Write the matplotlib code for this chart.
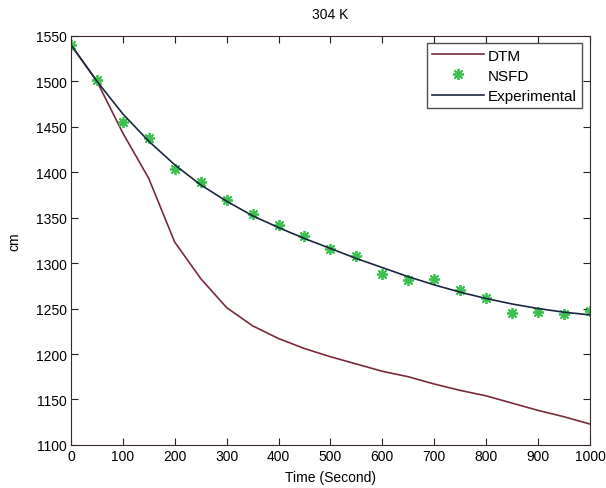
import matplotlib
matplotlib.use("Agg")
import matplotlib.pyplot as plt

t = [0, 50, 100, 150, 200, 250, 300, 350, 400, 450, 500, 550, 600, 650, 700,
     750, 800, 850, 900, 950, 1000]
dtm = [1540, 1500, 1443, 1393, 1323, 1283, 1251, 1231, 1217, 1206, 1197, 1189,
       1181, 1175, 1167, 1160, 1154, 1146, 1138, 1131, 1123]
nsfd = [1540, 1501, 1455, 1437, 1403, 1389, 1369, 1354, 1342, 1330, 1315, 1308,
        1288, 1281, 1283, 1270, 1262, 1245, 1246, 1244, 1247]
exper = [1540, 1500, 1464, 1434, 1408, 1386, 1368, 1352, 1339, 1327, 1316, 1305,
         1295, 1285, 1276, 1268, 1261, 1255, 1250, 1246, 1243]
xticks = [0, 100, 200, 300, 400, 500, 600, 700, 800, 900, 1000]
yticks = [1100, 1150, 1200, 1250, 1300, 1350, 1400, 1450, 1500, 1550]

plt.rcParams['font.family'] = ['Liberation Sans', 'DejaVu Sans']
fig = plt.figure(figsize=(6.06, 4.89), dpi=100)
ax = fig.add_axes([0.117, 0.088, 0.8566, 0.837])

ax.plot(t, dtm, color='#7a2b3a', lw=1.2, label='DTM')
ax.plot(t, nsfd, ls='none', marker=(8, 2, 0), ms=8, mew=1.3, color='#3cc43c',
        mec='#3cc050', label='NSFD')
ax.plot(t, exper, color='#1b2740', lw=1.2, label='Experimental')

ax.set_xlim(0, 1000)
ax.set_ylim(1100, 1550)
ax.set_xticks(xticks)
ax.set_yticks(yticks)
ax.tick_params(direction='in', top=True, right=True, labelsize=10,
               length=5, color='#222222', pad=3)
for s in ax.spines.values():
    s.set_color('#3a2a2a')
ax.set_xlabel('Time (Second)', fontsize=10, labelpad=5)
ax.set_ylabel('cm', fontsize=10, labelpad=10)
ax.set_title('304 K', fontsize=10, pad=13)

leg = ax.legend(loc='upper right', fontsize=11, frameon=True, fancybox=False,
                edgecolor='#222222', borderaxespad=0.5, handlelength=3.4,
                labelspacing=0.4, borderpad=0.35, handletextpad=0.25)
leg.get_frame().set_linewidth(1.0)

fig.savefig('out.png', dpi=100, facecolor='white')
